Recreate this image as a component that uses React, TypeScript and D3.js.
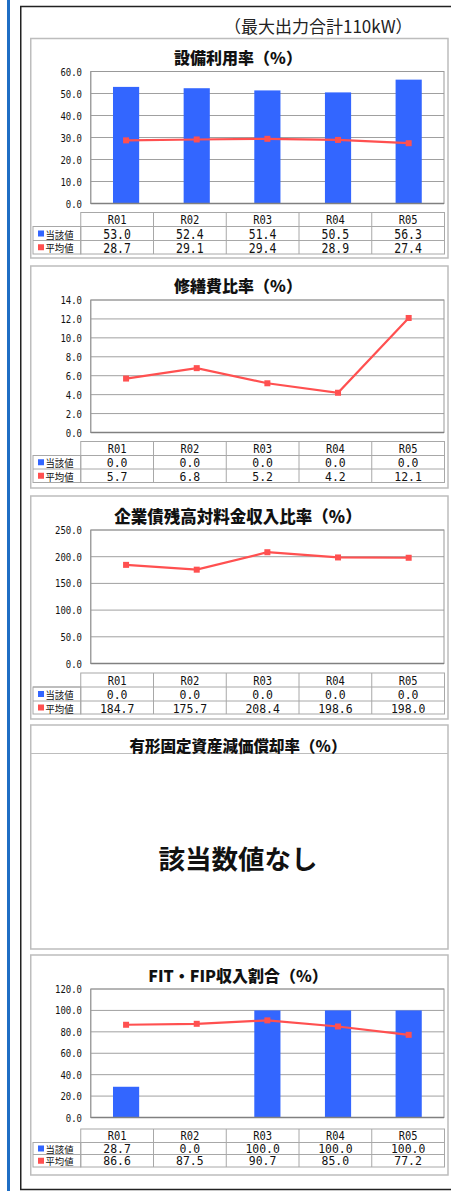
import React from "react";
import * as d3 from "d3";

// ---- data ----
const categories = ["R01", "R02", "R03", "R04", "R05"];
const seriesNames = ["当該値", "平均値"];

const util_current = [53.0, 52.4, 51.4, 50.5, 56.3];
const util_average = [28.7, 29.1, 29.4, 28.9, 27.4];
const util_ticks = [0, 10, 20, 30, 40, 50, 60];

const repair_current = [0.0, 0.0, 0.0, 0.0, 0.0];
const repair_average = [5.7, 6.8, 5.2, 4.2, 12.1];
const repair_ticks = [0, 2, 4, 6, 8, 10, 12, 14];

const bond_current = [0.0, 0.0, 0.0, 0.0, 0.0];
const bond_average = [184.7, 175.7, 208.4, 198.6, 198.0];
const bond_ticks = [0, 50, 100, 150, 200, 250];

const fit_current = [28.7, 0.0, 100.0, 100.0, 100.0];
const fit_average = [86.6, 87.5, 90.7, 85.0, 77.2];
const fit_ticks = [0, 20, 40, 60, 80, 100, 120];

const headerText = "（最大出力合計110kW）";
const noDataTitle = "有形固定資産減価償却率（%）";
const noDataText = "該当数値なし";

// ---- styles ----
const BLUE = "#3366FF";
const RED = "#FF5050";
const MONO = "'DejaVu Sans Mono', monospace";
const JP = "'Noto Sans CJK JP', sans-serif";

type ChartCfg = {
  title: string;
  titleSize: number;
  current: number[];
  average: number[];
  ticks: number[];
  top: number;
  bottom: number;
  titleY: number;
  plotTop: number;
  plotBottom: number;
  tableTop: number;
  rows: number[];
  valSize: number;
  legSize: number;
};

const charts: ChartCfg[] = [
  { title: "設備利用率（%）", titleSize: 16, current: util_current, average: util_average, ticks: util_ticks,
    top: 38.5, bottom: 258, titleY: 57, plotTop: 71.5, plotBottom: 203.5, tableTop: 212.5, rows: [14, 14, 13.5], valSize: 13.5, legSize: 10 },
  { title: "修繕費比率（%）", titleSize: 16, current: repair_current, average: repair_average, ticks: repair_ticks,
    top: 266, bottom: 488, titleY: 285, plotTop: 300, plotBottom: 432.5, tableTop: 441.5, rows: [14, 13.5, 13.5], valSize: 13, legSize: 10 },
  { title: "企業債残高対料金収入比率（%）", titleSize: 16.5, current: bond_current, average: bond_average, ticks: bond_ticks,
    top: 496, bottom: 719, titleY: 516, plotTop: 530, plotBottom: 663.5, tableTop: 673, rows: [14, 14, 13], valSize: 13, legSize: 10 },
  { title: "FIT・FIP収入割合（%）", titleSize: 16, current: fit_current, average: fit_average, ticks: fit_ticks,
    top: 955, bottom: 1175, titleY: 975, plotTop: 989, plotBottom: 1117.5, tableTop: 1129, rows: [13.5, 12, 12.5], valSize: 11.5, legSize: 9 },
];

const PANEL_L = 30.75;
const PANEL_R = 448;
const PLOT_L = 90.75;
const PLOT_R = 444;
const TABLE_L = 80.75;
const TABLE_R = 444.5;
const LEG_L = 33;

function MonoText(props: { x: number; y: number; text: string; size: number; cw: number; anchor?: string }) {
  const { x, y, text, size, cw, anchor = "middle" } = props;
  return (
    <text x={x} y={y} fontFamily={MONO} fontSize={size} textAnchor={anchor}
      dominantBaseline="central" fill="#111" textLength={text.length * cw} lengthAdjust="spacingAndGlyphs">
      {text}
    </text>
  );
}

function Chart({ c }: { c: ChartCfg }) {
  const maxV = c.ticks[c.ticks.length - 1];
  const y = d3.scaleLinear().domain([0, maxV]).range([c.plotBottom, c.plotTop]);
  const x = d3.scaleBand<string>().domain(categories).range([PLOT_L, PLOT_R]).paddingInner(0).paddingOuter(0);
  const bw = x.bandwidth() / 2.7;
  const cx = (cat: string) => (x(cat) as number) + x.bandwidth() / 2;
  const line = d3.line<number>().x((_, i) => cx(categories[i])).y((d) => y(d));
  const tx = d3.scaleBand<string>().domain(categories).range([TABLE_L, TABLE_R]);
  const rowY = [c.tableTop, c.tableTop + c.rows[0], c.tableTop + c.rows[0] + c.rows[1], c.tableTop + c.rows[0] + c.rows[1] + c.rows[2]];
  const series = [c.current, c.average];
  const colors = [BLUE, RED];
  return (
    <g>
      <rect x={PANEL_L} y={c.top} width={PANEL_R - PANEL_L} height={c.bottom - c.top} fill="#fff" stroke="#BDBDBD" strokeWidth={1.5} />
      <text x={238} y={c.titleY} textAnchor="middle" dominantBaseline="central" fontFamily={JP} fontWeight="900" fontSize={c.titleSize} fill="#111">{c.title}</text>
      {c.ticks.map((t) => (
        <line key={"g" + t} x1={PLOT_L} x2={PLOT_R} y1={y(t)} y2={y(t)} stroke="#A0A0A0" strokeWidth={1} />
      ))}
      <rect x={PLOT_L} y={c.plotTop} width={PLOT_R - PLOT_L} height={c.plotBottom - c.plotTop} fill="none" stroke="#999" strokeWidth={1} />
      {c.ticks.map((t) => (
        <MonoText key={"t" + t} x={82} y={y(t)} text={t.toFixed(1)} size={10.5} cw={5.4} anchor="end" />
      ))}
      {c.current.map((v, i) => (v > 0 ? (
        <rect key={"b" + i} x={cx(categories[i]) - bw / 2} y={y(v)} width={bw} height={y(0) - y(v)} fill={BLUE} />
      ) : null))}
      <line x1={PLOT_L} x2={PLOT_R} y1={y(0)} y2={y(0)} stroke="#808080" strokeWidth={1.5} />
      <line x1={PLOT_L} x2={PLOT_L} y1={c.plotTop} y2={c.plotBottom} stroke="#999" strokeWidth={1} />
      <path d={line(c.average) || ""} fill="none" stroke={RED} strokeWidth={2.2} />
      {c.average.map((v, i) => (
        <rect key={"m" + i} x={cx(categories[i]) - 3} y={y(v) - 3} width={6} height={6} fill={RED} />
      ))}
      <g stroke="#A8A8A8" strokeWidth={1} fill="none">
        <rect x={TABLE_L} y={rowY[0]} width={TABLE_R - TABLE_L} height={rowY[3] - rowY[0]} />
        <rect x={LEG_L} y={rowY[1]} width={TABLE_L - LEG_L} height={rowY[3] - rowY[1]} />
        <line x1={LEG_L} x2={TABLE_R} y1={rowY[1]} y2={rowY[1]} />
        <line x1={LEG_L} x2={TABLE_R} y1={rowY[2]} y2={rowY[2]} />
        {categories.slice(1).map((cat) => (
          <line key={"v" + cat} x1={tx(cat) as number} x2={tx(cat) as number} y1={rowY[0]} y2={rowY[3]} />
        ))}
      </g>
      {categories.map((cat) => (
        <MonoText key={"h" + cat} x={(tx(cat) as number) + tx.bandwidth() / 2} y={(rowY[0] + rowY[1]) / 2 + 0.5} text={cat} size={Math.min(12, c.valSize)} cw={6.3} />
      ))}
      {series.map((s, r) => (
        <g key={"r" + r}>
          <rect x={LEG_L + 5} y={(rowY[r + 1] + rowY[r + 2]) / 2 - 3} width={6} height={6} fill={colors[r]} />
          <text x={LEG_L + 12.5} y={(rowY[r + 1] + rowY[r + 2]) / 2 + 0.5} dominantBaseline="central" fontFamily={JP} fontSize={c.legSize} fill="#111"
            textLength={28} lengthAdjust="spacingAndGlyphs">{seriesNames[r]}</text>
          {s.map((v, i) => (
            <MonoText key={"c" + i} x={(tx(categories[i]) as number) + tx.bandwidth() / 2} y={(rowY[r + 1] + rowY[r + 2]) / 2 + 0.5}
              text={v.toFixed(1)} size={c.valSize} cw={6.9} />
          ))}
        </g>
      ))}
    </g>
  );
}

export default function App() {
  return (
    <div style={{ position: "absolute", left: 0, top: 0 }}>
      <svg width={451} height={1191} viewBox="0 0 451 1191" style={{ display: "block", background: "#fff" }}>
        <rect x={0} y={0} width={451} height={1191} fill="#fff" />
        <rect x={7} y={0} width={3} height={1191} fill="#1F6EC4" />
        <path d="M 460 6.5 L 20.75 6.5 L 20.75 1189.5 L 460 1189.5" fill="none" stroke="#222" strokeWidth={1.5} />
        <text x={224} y={33} fontFamily={JP} fontSize={17} fill="#222">{headerText}</text>
        {charts.map((c, i) => (
          <Chart key={i} c={c} />
        ))}
        <g>
          <rect x={PANEL_L} y={725} width={PANEL_R - PANEL_L} height={224} fill="#fff" stroke="#BDBDBD" strokeWidth={1.5} />
          <line x1={PANEL_L} x2={PANEL_R} y1={753.5} y2={753.5} stroke="#BDBDBD" strokeWidth={1} />
          <text x={238} y={745} textAnchor="middle" dominantBaseline="central" fontFamily={JP} fontWeight="900" fontSize={15.5} fill="#111">{noDataTitle}</text>
          <text x={238} y={857} textAnchor="middle" dominantBaseline="central" fontFamily={JP} fontWeight="bold" fontSize={26.5} fill="#111">{noDataText}</text>
        </g>
      </svg>
    </div>
  );
}
